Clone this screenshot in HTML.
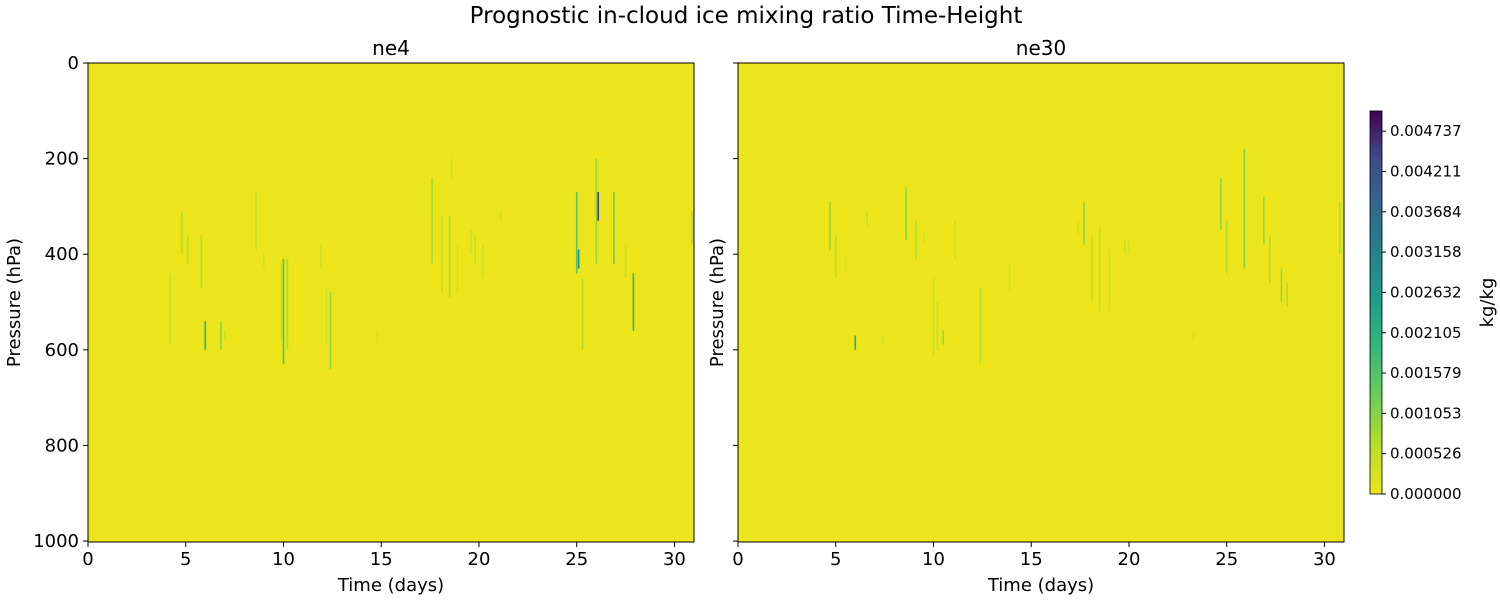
<!DOCTYPE html>
<html><head><meta charset="utf-8"><style>
body{margin:0;background:#fff;font-family:"Liberation Sans","DejaVu Sans",sans-serif}
svg text{font-family:"DejaVu Sans","Liberation Sans",sans-serif;fill:#000}
</style></head><body>
<svg id="chart" width="1500" height="600" viewBox="0 0 1500 600" xmlns="http://www.w3.org/2000/svg">
<defs><linearGradient id="vir" x1="0" y1="1" x2="0" y2="0">
<stop offset="0" stop-color="#ece51b"/><stop offset="0.13" stop-color="#b5de2b"/><stop offset="0.25" stop-color="#6ece58"/><stop offset="0.38" stop-color="#35b779"/><stop offset="0.5" stop-color="#1f9e89"/><stop offset="0.63" stop-color="#26828e"/><stop offset="0.75" stop-color="#31688e"/><stop offset="0.88" stop-color="#3e4989"/><stop offset="1" stop-color="#440154"/>
</linearGradient></defs>
<text x="746" y="23" font-size="23" text-anchor="middle">Prognostic in-cloud ice mixing ratio Time-Height</text>
<g id="plots"></g>
</svg>
<script>
const xTicks=[0,5,10,15,20,25,30];
const yTicks=[0,200,400,600,800,1000];
const cbTicks=["0.000000","0.000526","0.001053","0.001579","0.002105","0.002632","0.003158","0.003684","0.004211","0.004737"];
const cbMax=0.005;
const ne4Day=[4.2,4.8,5.1,5.8,6.0,6.8,7.0,8.6,9.0,9.9,10.0,10.2,11.9,12.2,12.4,14.8,17.6,18.1,18.5,18.9,19.6,19.8,20.2,18.6,21.1,25.0,25.1,25.3,26.0,26.1,26.9,27.5,27.9,30.9];
const ne4Top=[440,310,360,360,540,540,560,270,400,420,410,410,380,470,480,560,240,320,320,380,350,360,380,200,310,270,390,450,200,270,270,380,440,310];
const ne4Bot=[590,400,420,470,600,600,580,390,430,580,630,600,430,590,640,590,420,480,490,480,400,420,450,240,330,440,430,600,420,330,420,450,560,380];
const ne4Val=[0.0005,0.0007,0.0006,0.0007,0.0022,0.001,0.0005,0.0006,0.0004,0.0005,0.0016,0.0007,0.0004,0.0004,0.001,0.0003,0.0008,0.0005,0.0007,0.0004,0.0004,0.0005,0.0004,0.0004,0.0004,0.0015,0.0028,0.0007,0.0009,0.0045,0.0013,0.0005,0.002,0.0007];
const ne30Day=[4.7,5.0,5.5,6.0,6.6,7.4,8.6,9.1,9.5,10.0,10.2,10.5,11.1,12.4,13.9,17.4,17.7,18.1,18.5,19.0,19.8,20.0,23.3,24.7,25.0,25.9,26.9,27.2,27.8,28.1,30.8];
const ne30Top=[290,360,400,570,310,570,260,330,350,450,500,560,330,470,420,330,290,360,340,390,370,370,560,240,330,180,280,360,430,460,290];
const ne30Bot=[390,450,440,600,340,590,370,410,380,610,600,590,410,630,480,360,380,500,520,520,400,400,580,350,440,430,380,460,500,510,400];
const ne30Val=[0.0009,0.0006,0.0002,0.0022,0.0005,0.0004,0.001,0.0007,0.0003,0.0005,0.0005,0.0009,0.0004,0.0006,0.0003,0.0003,0.001,0.0005,0.0005,0.0004,0.0005,0.0003,0.0003,0.001,0.0007,0.0011,0.0009,0.0007,0.0009,0.0007,0.0007];

const NS="http://www.w3.org/2000/svg";
const g=document.getElementById('plots');
const stops=[[0,[236,229,27]],[0.13,[181,222,43]],[0.25,[110,206,88]],[0.38,[53,183,121]],[0.5,[31,158,137]],[0.63,[38,130,142]],[0.75,[49,104,142]],[0.88,[62,73,137]],[1,[68,1,84]]];
function cmap(v){let t=Math.max(0,Math.min(1,v/cbMax));for(let i=1;i<stops.length;i++){if(t<=stops[i][0]){const a=stops[i-1],b=stops[i],f=(t-a[0])/(b[0]-a[0]);return 'rgb('+a[1].map((c,k)=>Math.round(c+(b[1][k]-c)*f)).join(',')+')';}}return 'rgb(68,1,84)';}
function mk(tag,attrs,parent){const e=document.createElementNS(NS,tag);for(const k in attrs)e.setAttribute(k,attrs[k]);(parent||g).appendChild(e);return e;}
const T=63,B=542;
function yS(p){return T+(p/1002)*(B-T);}
function panel(x0,name,days,tops,bots,vals,showY){
  const W=606;const xS=d=>x0+d/31*W;
  const grp=mk('g',{});
  
  
  const bg=mk('rect',{x:x0,y:T,width:W,height:B-T,fill:'#ece51b'},grp);
  
  
  for(let i=0;i<days.length;i++){
    const r=mk('rect',{x:xS(days[i])-0.8,y:yS(tops[i]),width:1.6,height:yS(bots[i])-yS(tops[i]),fill:cmap(vals[i])},grp);
    
    
  }
  const fr=mk('rect',{x:x0,y:T,width:W,height:B-T,fill:'none',stroke:'#000','stroke-width':1},grp);
  
  
  const t=mk('text',{x:x0+W/2,y:55,'font-size':20,'text-anchor':'middle'},grp);t.textContent=name;
  
  
  xTicks.forEach(v=>{mk('line',{x1:xS(v),x2:xS(v),y1:B,y2:B+5,stroke:'#000'},grp);
    const l=mk('text',{x:xS(v),y:B+23,'font-size':18,'text-anchor':'middle'},grp);l.textContent=v;
    
    });
  yTicks.forEach(v=>{mk('line',{x1:x0-5,x2:x0,y1:yS(v),y2:yS(v),stroke:'#000'},grp);
    if(showY){const l=mk('text',{x:x0-9,y:yS(v)+6,'font-size':18,'text-anchor':'end'},grp);l.textContent=v;
    
    }});
  const xl=mk('text',{x:x0+W/2,y:591,'font-size':18,'text-anchor':'middle'},grp);xl.textContent='Time (days)';
  
  
  const off=showY?74:21;
  const yl=mk('text',{x:0,y:0,'font-size':18,'text-anchor':'middle',transform:'translate('+(x0-off+6)+','+((T+B)/2)+') rotate(-90)'},grp);yl.textContent='Pressure (hPa)';
  
  
}
panel(88,'ne4',ne4Day,ne4Top,ne4Bot,ne4Val,true);
panel(738,'ne30',ne30Day,ne30Top,ne30Bot,ne30Val,false);
// colorbar
const cT=111,cB=494,cx=1370,cw=12;
const cb=mk('rect',{x:cx,y:cT,width:cw,height:cB-cT,fill:'url(#vir)',stroke:'#000','stroke-width':0.8});


cbTicks.forEach(s=>{const y=cB-parseFloat(s)/cbMax*(cB-cT);mk('line',{x1:cx+cw,x2:cx+cw+4,y1:y,y2:y,stroke:'#000'});
  const l=mk('text',{x:cx+cw+8,y:y+5,'font-size':15},g);l.textContent=s;
  
  });
const cl=mk('text',{x:0,y:0,'font-size':18,'text-anchor':'middle',transform:'translate(1493,'+((cT+cB)/2)+') rotate(-90)'});cl.textContent='kg/kg';


</script>
</body></html>
